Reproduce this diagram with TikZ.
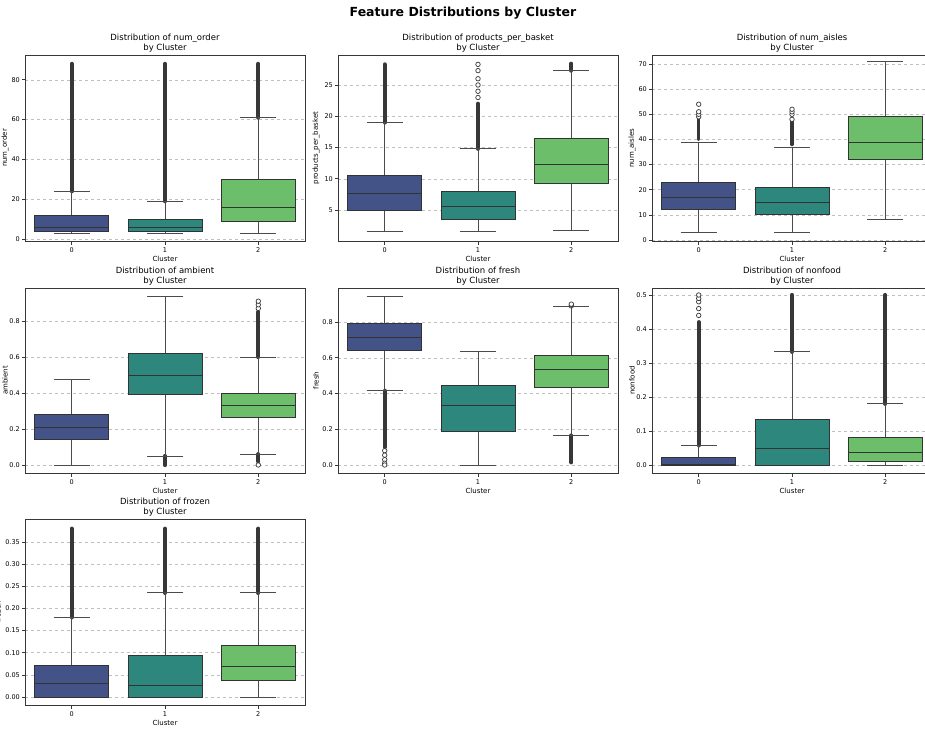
\documentclass[tikz,border=0pt]{standalone}
\usepackage{fontspec}
\setmainfont{DejaVu Sans}
\definecolor{cA}{RGB}{67,83,135}
\definecolor{cB}{RGB}{45,135,124}
\definecolor{cC}{RGB}{108,190,106}
\definecolor{dk}{RGB}{55,55,55}
\begin{document}
\begin{tikzpicture}[x=1pt,y=-1pt,font=\fontsize{6.5}{7}\selectfont,
  frm/.style={draw=dk,line width=0.8pt},
  grd/.style={draw=black!25,dashed,line width=0.5pt},
  tk/.style={draw=dk,line width=0.6pt},
  whisk/.style={draw=dk!90,line width=0.9pt},
  boxln/.style={draw=black!80,line width=0.8pt},
  outl/.style={draw=dk,line width=4.2pt,line cap=round},
  oc/.style={circle,draw=dk,fill=white,line width=0.7pt,inner sep=0pt,minimum size=4.5pt},
  ttl/.style={align=center,font=\fontsize{8.5}{9.5}\selectfont}]
\useasboundingbox (0,0) rectangle (925,733);
\clip (0,0) rectangle (925,733);
\fill[white] (0,0) rectangle (925,733);
\node[font=\bfseries\fontsize{12.5}{14}\selectfont] (main) at (463,13) {Feature Distributions by Cluster};
\newcommand\yt[2]{\draw[grd] (\L,#1)--(\L+280,#1); \draw[tk] (\L,#1)--(\L-3.5,#1); \node[anchor=east,inner sep=1pt] at (\L-4,#1) {#2};}
\newcommand\bx[7]{%
  \pgfmathsetmacro\xc{\L+46.7+93.3*#1}%
  \draw[whisk] (\xc,#2)--(\xc,#3) (\xc,#5)--(\xc,#6) (\xc-18,#2)--(\xc+18,#2) (\xc-18,#6)--(\xc+18,#6);
  \filldraw[fill=#7,boxln] (\xc-37,#3) rectangle (\xc+37,#5);
  \draw[boxln] (\xc-37,#4)--(\xc+37,#4);}
\newcommand\ou[3]{\pgfmathsetmacro\xc{\L+46.7+93.3*#1}\draw[outl] (\xc,#2)--(\xc,#3);}
\newcommand\pp[2]{\pgfmathsetmacro\xc{\L+46.7+93.3*#1}\node[oc] at (\xc,#2) {};}
\newcommand\pnl[5]{%
  \draw[frm] (\L,#1) rectangle (\L+280,#2);
  \node[ttl] at (\L+140,#1-12) {#3\\by Cluster};
  \foreach \i in {0,1,2} {\draw[tk] (\L+46.7+93.3*\i,#2)--(\L+46.7+93.3*\i,#2+3.5);
    \node at (\L+46.7+93.3*\i,#2+9) {\i};}
  \node[font=\fontsize{7}{8}\selectfont] at (\L+140,#2+18) {Cluster};
  \node[rotate=90,font=\fontsize{7}{8}\selectfont] at (#5,{(#1+#2)/2}) {#4};}
% ---------- panel 1
\def\L{25}
\begin{scope}[shift={(0,239)},yscale=-1.99]
\foreach \v in {0,20,40,60,80} {\yt{\v}{\v}}
\ou{0}{24}{88}\ou{1}{19}{88}\ou{2}{61}{88}
\bx{0}{3}{4}{6}{12}{24}{cA}
\bx{1}{3}{4}{6}{10}{19}{cB}
\bx{2}{3}{9}{16}{30}{61}{cC}
\end{scope}
\pnl{55}{241}{Distribution of num\_order}{num\_order}{5}
% ---------- panel 2
\def\L{338}
\begin{scope}[shift={(0,241.25)},yscale=-6.25]
\foreach \v in {5,10,15,20,25} {\yt{\v}{\v}}
\ou{0}{19}{28.3}\ou{1}{14.8}{22}\ou{2}{27.3}{28.4}
\pp{1}{23}\pp{1}{24}\pp{1}{25}\pp{1}{26}\pp{1}{27.3}\pp{1}{28.3}
\bx{0}{1.5}{5}{7.6}{10.6}{19}{cA}
\bx{1}{1.5}{3.5}{5.5}{8}{14.8}{cB}
\bx{2}{1.8}{9.2}{12.3}{16.4}{27.3}{cC}
\end{scope}
\pnl{55}{241}{Distribution of products\_per\_basket}{products\_per\_basket}{316}
% ---------- panel 3
\def\L{652}
\begin{scope}[shift={(0,240)},yscale=-2.514]
\foreach \v in {0,10,...,70} {\yt{\v}{\v}}
\draw[outl,line width=3.5pt] (\L+46.7,40)--(\L+46.7,48);
\draw[outl,line width=3.5pt] (\L+140,38)--(\L+140,47);
\pp{0}{49}\pp{0}{50}\pp{0}{51}\pp{0}{54}
\pp{1}{48}\pp{1}{50}\pp{1}{51}\pp{1}{52}
\bx{0}{3}{12}{17}{23}{39}{cA}
\bx{1}{3}{10}{15}{21}{37}{cB}
\bx{2}{8}{32}{39}{49}{71}{cC}
\end{scope}
\pnl{55}{241}{Distribution of num\_aisles}{num\_aisles}{632}
% ---------- panel 4 ambient
\def\L{25}
\begin{scope}[shift={(0,465)},yscale=-180]
\foreach \v in {0.0,0.2,0.4,0.6,0.8} {\yt{\v}{\v}}
\ou{1}{0.0}{0.05}\ou{2}{0.60}{0.85}\ou{2}{0.02}{0.06}
\pp{2}{0.87}\pp{2}{0.89}\pp{2}{0.91}\pp{2}{0.0}
\bx{0}{0}{0.145}{0.21}{0.28}{0.475}{cA}
\bx{1}{0.05}{0.395}{0.5}{0.62}{0.935}{cB}
\bx{2}{0.06}{0.265}{0.33}{0.40}{0.60}{cC}
\end{scope}
\pnl{288}{473}{Distribution of ambient}{ambient}{5}
% ---------- panel 5 fresh
\def\L{338}
\begin{scope}[shift={(0,465)},yscale=-178.75]
\foreach \v in {0.0,0.2,0.4,0.6,0.8} {\yt{\v}{\v}}
\ou{0}{0.1}{0.415}\ou{2}{0.015}{0.165}
\pp{0}{0.08}\pp{0}{0.055}\pp{0}{0.03}\pp{0}{0.01}\pp{0}{0.0}
\pp{2}{0.89}\pp{2}{0.9}
\bx{0}{0.415}{0.64}{0.715}{0.79}{0.945}{cA}
\bx{1}{0}{0.19}{0.335}{0.445}{0.635}{cB}
\bx{2}{0.165}{0.435}{0.535}{0.615}{0.885}{cC}
\end{scope}
\pnl{288}{473}{Distribution of fresh}{fresh}{316}
% ---------- panel 6 nonfood
\def\L{652}
\begin{scope}[shift={(0,465)},yscale=-340]
\foreach \v in {0.0,0.1,0.2,0.3,0.4,0.5} {\yt{\v}{\v}}
\ou{0}{0.058}{0.42}\ou{1}{0.333}{0.5}\ou{2}{0.18}{0.5}
\pp{0}{0.44}\pp{0}{0.46}\pp{0}{0.48}\pp{0}{0.49}\pp{0}{0.5}
\bx{0}{0}{0}{0.002}{0.023}{0.058}{cA}
\bx{1}{0}{0}{0.048}{0.133}{0.333}{cB}
\bx{2}{0}{0.012}{0.036}{0.08}{0.18}{cC}
\end{scope}
\pnl{288}{473}{Distribution of nonfood}{nonfood}{632}
% ---------- panel 7 frozen
\def\L{25}
\begin{scope}[shift={(0,697)},yscale=-442.9]
\foreach \v/\t in {0.00/0.00,0.05/0.05,0.10/0.10,0.15/0.15,0.20/0.20,0.25/0.25,0.30/0.30,0.35/0.35} {\yt{\v}{\t}}
\ou{0}{0.18}{0.38}\ou{1}{0.235}{0.38}\ou{2}{0.235}{0.38}
\bx{0}{0}{0}{0.03}{0.072}{0.18}{cA}
\bx{1}{0}{0}{0.027}{0.093}{0.235}{cB}
\bx{2}{0}{0.038}{0.07}{0.116}{0.235}{cC}
\end{scope}
\pnl{519}{705}{Distribution of frozen}{frozen}{-2}
\end{tikzpicture}
\end{document}
